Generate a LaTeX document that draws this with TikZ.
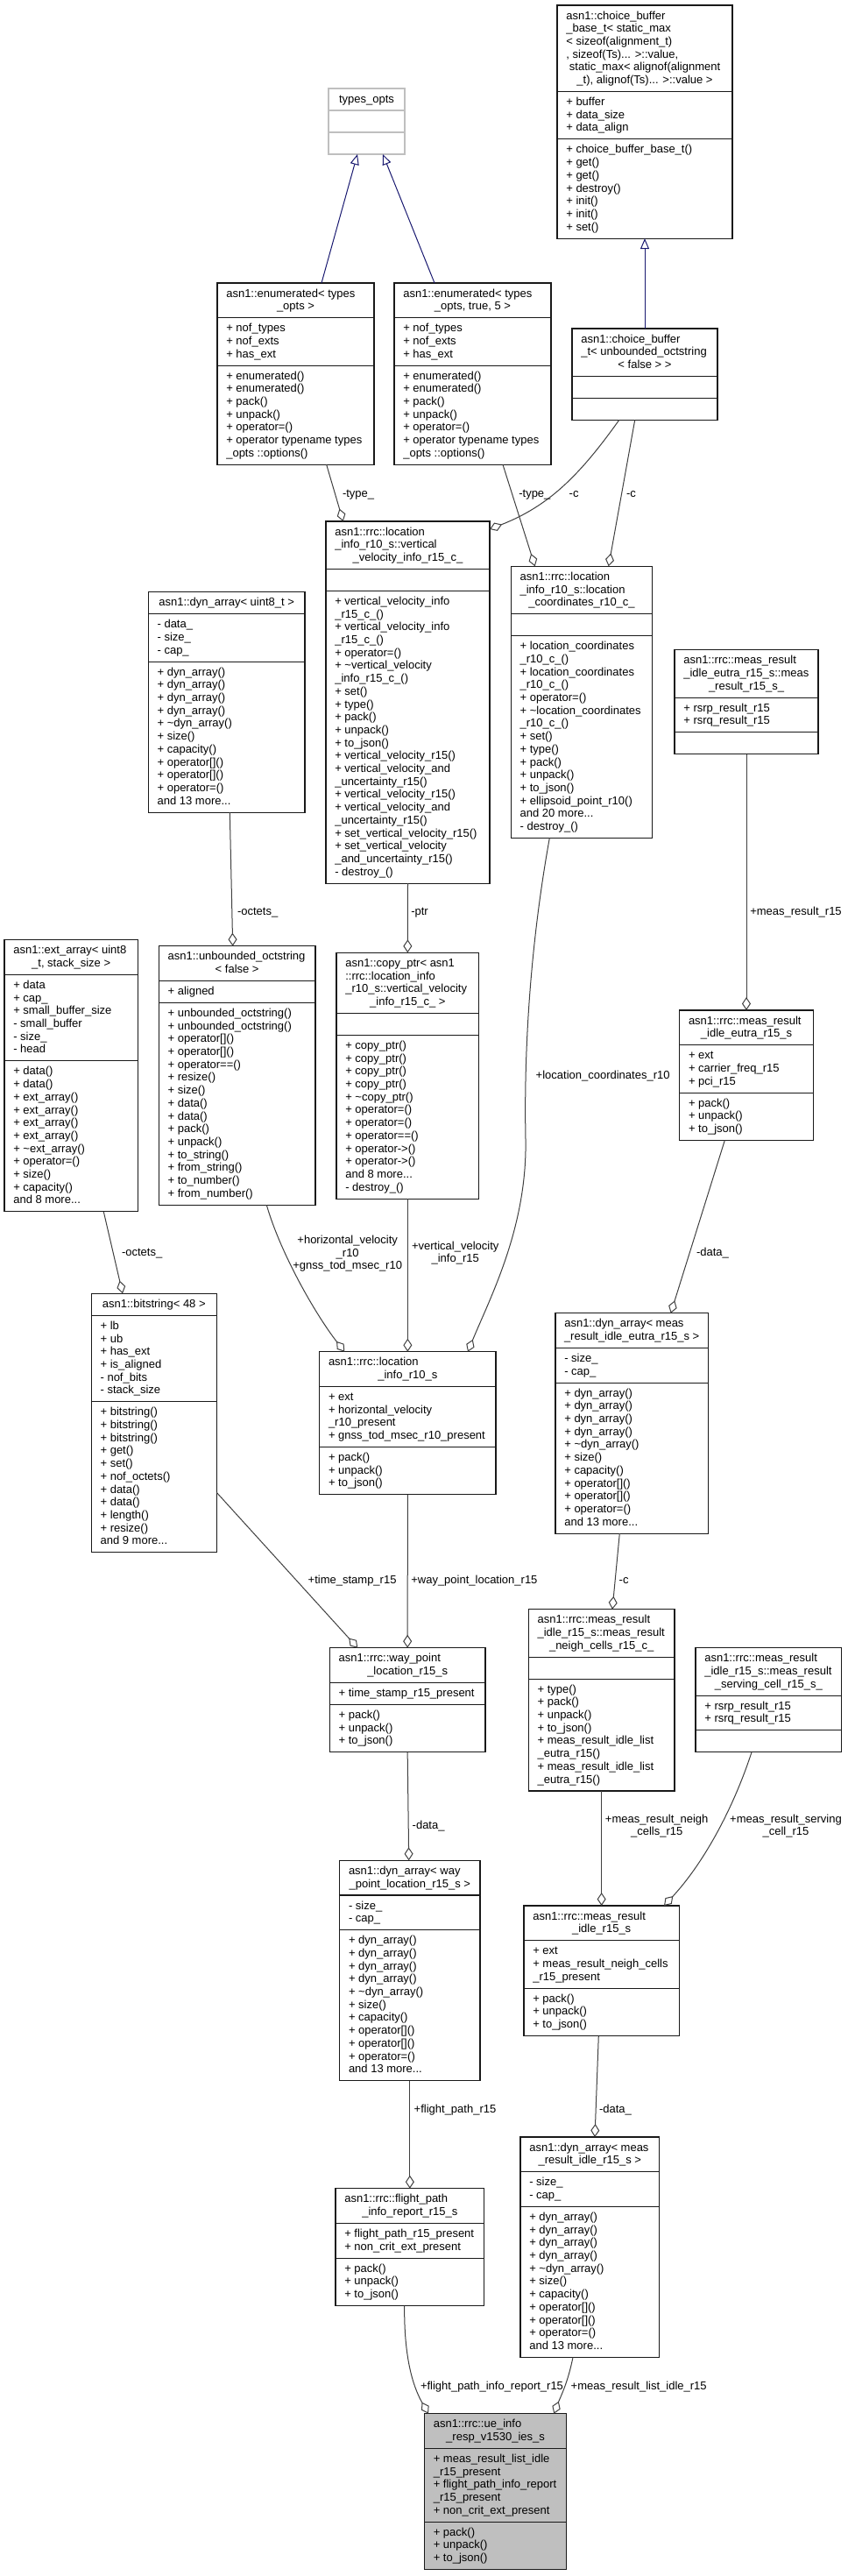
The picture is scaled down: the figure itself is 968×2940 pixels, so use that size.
\documentclass[tikz,border=0pt]{standalone}
\usepackage{fontspec}
\setmainfont{Liberation Sans}
\usetikzlibrary{arrows.meta,calc}
\definecolor{edgegray}{HTML}{404040}
\definecolor{inhblue}{HTML}{191970}
\definecolor{lightbd}{HTML}{BFBFBF}
\definecolor{mainfill}{HTML}{BFBFBF}
\newcommand\mytilde{\textasciitilde}
\newcommand\clsbox[8]{%
  \pgfmathsetmacro\cL{#2}%
  \pgfmathsetmacro\cT{#3}%
  \pgfmathsetmacro\cR{#4}%
  \pgfmathsetmacro\cW{#4-(#2)}%
  \pgfmathsetmacro\cX{((#2)+(#4))/2}%
  \pgfmathsetmacro\cA{#3+#5*14.7+10.3}%
  \pgfmathsetmacro\cB{\cA+max(#6,1)*14.7+10.3}%
  \pgfmathsetmacro\cE{\cB+max(#7,1)*14.7+10.3}%
  \pgfmathsetmacro\cH{\cE-(#3)}%
  \def\cN{#5}%
  \node[#8, anchor=north west, minimum width=\cW pt, minimum height=\cH pt] (#1) at (\cL,\cT) {};
  \draw[#8] (\cL,\cA) -- (\cR,\cA) (\cL,\cB) -- (\cR,\cB);
}
\newcommand\ttl[2]{%
  \def\tmp{#1}%
  \ifx\tmp\empty\else
    \node[txt, anchor=base west] at (\cL+10.3,\cT+16) {\begin{tabular}[t]{@{}l@{}}#1\end{tabular}};
  \fi
  \pgfmathsetmacro\cY{\cT+16+(\cN-1)*14.7}%
  \node[txt, anchor=base] at (\cX,\cY) {#2};
}
\newcommand\att[1]{\node[txt, anchor=base west] at (\cL+10.3,\cA+16) {\begin{tabular}[t]{@{}l@{}}#1\end{tabular}};}
\newcommand\meth[1]{\node[txt, anchor=base west] at (\cL+10.3,\cB+16) {\begin{tabular}[t]{@{}l@{}}#1\end{tabular}};}
\tikzset{
  every node/.style={font=\fontsize{13}{14.7}\selectfont},
  txt/.style={inner sep=0pt, outer sep=0pt, text=black},
  lbl/.style={inner sep=0pt, outer sep=0pt, text=black},
  cbox/.style={draw=black!90, line width=1.1pt, fill=white, inner sep=0pt, outer sep=0pt},
  gbox/.style={draw=lightbd, line width=1.1pt, fill=white, inner sep=0pt, outer sep=0pt},
  mbox/.style={draw=black!90, line width=1.1pt, fill=mainfill, inner sep=0pt, outer sep=0pt},
  agg/.style={draw=edgegray, line width=1pt, -{Diamond[length=15pt,width=10pt,fill=white]}},
  inh/.style={draw=inhblue, line width=1pt, -{Triangle[length=12pt,width=10pt,fill=white]}}
}
\catcode`\_=12
\newcommand\dynlist{+ dyn_array()\\+ dyn_array()\\+ dyn_array()\\+ dyn_array()\\+ \mytilde dyn_array()\\+ size()\\+ capacity()\\+ operator[]()\\+ operator[]()\\+ operator=()\\and 13 more...}
\newcommand\pujlist{+ pack()\\+ unpack()\\+ to_json()}
\begin{document}
\begin{tikzpicture}[x=1pt,y=-1pt]
\useasboundingbox (0,0) rectangle (968,2940);
\fill[white] (0,0) rectangle (968,2940);

% ---------- boxes ----------
\clsbox{types}{375}{101}{462}{1}{0}{0}{gbox}
\ttl{}{types_opts}

\clsbox{enumA}{248}{323}{427}{2}{3}{7}{cbox}
\ttl{asn1::enumerated< types}{_opts >}
\att{+ nof_types\\+ nof_exts\\+ has_ext}
\meth{+ enumerated()\\+ enumerated()\\+ pack()\\+ unpack()\\+ operator=()\\+ operator typename types\\_opts ::options()}

\clsbox{enumB}{450}{323}{629}{2}{3}{7}{cbox}
\ttl{asn1::enumerated< types}{_opts, true, 5 >}
\att{+ nof_types\\+ nof_exts\\+ has_ext}
\meth{+ enumerated()\\+ enumerated()\\+ pack()\\+ unpack()\\+ operator=()\\+ operator typename types\\_opts ::options()}

\clsbox{cbb}{636}{6}{836}{6}{3}{7}{cbox}
\ttl{asn1::choice_buffer\\_base_t< static_max\\< sizeof(alignment_t)\\, sizeof(Ts)... >::value,\\\hspace{3.6pt}static_max< alignof(alignment}{_t), alignof(Ts)... >::value >}
\att{+ buffer\\+ data_size\\+ data_align}
\meth{+ choice_buffer_base_t()\\+ get()\\+ get()\\+ destroy()\\+ init()\\+ init()\\+ set()}

\clsbox{cbt}{653}{375}{819}{3}{0}{0}{cbox}
\ttl{asn1::choice_buffer\\_t< unbounded_octstring}{< false > >}

\clsbox{vv}{372}{595}{559}{3}{0}{22}{cbox}
\ttl{asn1::rrc::location\\_info_r10_s::vertical}{_velocity_info_r15_c_}
\meth{+ vertical_velocity_info\\_r15_c_()\\+ vertical_velocity_info\\_r15_c_()\\+ operator=()\\+ \mytilde vertical_velocity\\_info_r15_c_()\\+ set()\\+ type()\\+ pack()\\+ unpack()\\+ to_json()\\+ vertical_velocity_r15()\\+ vertical_velocity_and\\_uncertainty_r15()\\+ vertical_velocity_r15()\\+ vertical_velocity_and\\_uncertainty_r15()\\+ set_vertical_velocity_r15()\\+ set_vertical_velocity\\_and_uncertainty_r15()\\- destroy_()}

\clsbox{lc}{583.3}{646.3}{744.7}{3}{0}{15}{cbox}
\ttl{asn1::rrc::location\\_info_r10_s::location}{_coordinates_r10_c_}
\meth{+ location_coordinates\\_r10_c_()\\+ location_coordinates\\_r10_c_()\\+ operator=()\\+ \mytilde location_coordinates\\_r10_c_()\\+ set()\\+ type()\\+ pack()\\+ unpack()\\+ to_json()\\+ ellipsoid_point_r10()\\and 20 more...\\- destroy_()}

\clsbox{dynu}{169.3}{675.7}{348}{1}{3}{11}{cbox}
\ttl{}{asn1::dyn_array< uint8_t >}
\att{- data_\\- size_\\- cap_}
\meth{\dynlist}

\clsbox{mrr}{770}{741.7}{934}{3}{2}{0}{cbox}
\ttl{asn1::rrc::meas_result\\_idle_eutra_r15_s::meas}{_result_r15_s_}
\att{+ rsrp_result_r15\\+ rsrq_result_r15}

\clsbox{ext}{5}{1072.7}{157.3}{2}{6}{11}{cbox}
\ttl{asn1::ext_array< uint8}{_t, stack_size >}
\att{+ data\\+ cap_\\+ small_buffer_size\\- small_buffer\\- size_\\- head}
\meth{+ data()\\+ data()\\+ ext_array()\\+ ext_array()\\+ ext_array()\\+ ext_array()\\+ \mytilde ext_array()\\+ operator=()\\+ size()\\+ capacity()\\and 8 more...}

\clsbox{uo}{181.3}{1079.7}{360}{2}{1}{15}{cbox}
\ttl{asn1::unbounded_octstring}{< false >}
\att{+ aligned}
\meth{+ unbounded_octstring()\\+ unbounded_octstring()\\+ operator[]()\\+ operator[]()\\+ operator==()\\+ resize()\\+ size()\\+ data()\\+ data()\\+ pack()\\+ unpack()\\+ to_string()\\+ from_string()\\+ to_number()\\+ from_number()}

\clsbox{cp}{384}{1087.3}{546.7}{4}{0}{12}{cbox}
\ttl{asn1::copy_ptr< asn1\\::rrc::location_info\\_r10_s::vertical_velocity}{_info_r15_c_ >}
\meth{+ copy_ptr()\\+ copy_ptr()\\+ copy_ptr()\\+ copy_ptr()\\+ \mytilde copy_ptr()\\+ operator=()\\+ operator=()\\+ operator==()\\+ operator->()\\+ operator->()\\and 8 more...\\- destroy_()}

\clsbox{mre}{775.7}{1153}{928.3}{2}{3}{3}{cbox}
\ttl{asn1::rrc::meas_result}{_idle_eutra_r15_s}
\att{+ ext\\+ carrier_freq_r15\\+ pci_r15}
\meth{\pujlist}

\clsbox{bs}{104.3}{1476.3}{247.3}{1}{6}{11}{cbox}
\ttl{}{asn1::bitstring< 48 >}
\att{+ lb\\+ ub\\+ has_ext\\+ is_aligned\\- nof_bits\\- stack_size}
\meth{+ bitstring()\\+ bitstring()\\+ bitstring()\\+ get()\\+ set()\\+ nof_octets()\\+ data()\\+ data()\\+ length()\\+ resize()\\and 9 more...}

\clsbox{li}{364.7}{1542.7}{566}{2}{4}{3}{cbox}
\ttl{asn1::rrc::location}{_info_r10_s}
\att{+ ext\\+ horizontal_velocity\\_r10_present\\+ gnss_tod_msec_r10_present}
\meth{\pujlist}

\clsbox{dme}{634}{1498.7}{808.3}{2}{2}{11}{cbox}
\ttl{asn1::dyn_array< meas}{_result_idle_eutra_r15_s >}
\att{- size_\\- cap_}
\meth{\dynlist}

\clsbox{wp}{376.3}{1880.7}{554}{2}{1}{3}{cbox}
\ttl{asn1::rrc::way_point}{_location_r15_s}
\att{+ time_stamp_r15_present}
\meth{\pujlist}

\clsbox{mnc}{603.3}{1836.7}{770}{3}{0}{8}{cbox}
\ttl{asn1::rrc::meas_result\\_idle_r15_s::meas_result}{_neigh_cells_r15_c_}
\meth{+ type()\\+ pack()\\+ unpack()\\+ to_json()\\+ meas_result_idle_list\\_eutra_r15()\\+ meas_result_idle_list\\_eutra_r15()}

\clsbox{msc}{794}{1880.7}{960.7}{3}{2}{0}{cbox}
\ttl{asn1::rrc::meas_result\\_idle_r15_s::meas_result}{_serving_cell_r15_s_}
\att{+ rsrp_result_r15\\+ rsrq_result_r15}

\clsbox{dwp}{387.7}{2123.3}{548}{2}{2}{11}{cbox}
\ttl{asn1::dyn_array< way}{_point_location_r15_s >}
\att{- size_\\- cap_}
\meth{\dynlist}

\clsbox{mri}{598}{2175}{775.3}{2}{3}{3}{cbox}
\ttl{asn1::rrc::meas_result}{_idle_r15_s}
\att{+ ext\\+ meas_result_neigh_cells\\_r15_present}
\meth{\pujlist}

\clsbox{fp}{383}{2497.7}{552.7}{2}{2}{3}{cbox}
\ttl{asn1::rrc::flight_path}{_info_report_r15_s}
\att{+ flight_path_r15_present\\+ non_crit_ext_present}
\meth{\pujlist}

\clsbox{dmi}{594}{2439}{752.7}{2}{2}{11}{cbox}
\ttl{asn1::dyn_array< meas}{_result_idle_r15_s >}
\att{- size_\\- cap_}
\meth{\dynlist}

\clsbox{main}{484.5}{2754.7}{646.7}{2}{5}{3}{mbox}
\ttl{asn1::rrc::ue_info}{_resp_v1530_ies_s}
\att{+ meas_result_list_idle\\_r15_present\\+ flight_path_info_report\\_r15_present\\+ non_crit_ext_present}
\meth{\pujlist}

% ---------- inheritance ----------
\draw[inh] ([xshift=119pt]enumA.north west) -- ([xshift=33pt]types.south west);
\draw[inh] ([xshift=46pt]enumB.north west) -- ([xshift=62pt]types.south west);
\draw[inh] (cbt.north) -- (cbb.south);

% ---------- aggregation ----------
\draw[agg] ([xshift=124.7pt]enumA.south west) -- ([xshift=19.7pt]vv.north west);
\draw[agg] ([xshift=124pt]enumB.south west) -- ([xshift=27.4pt]lc.north west);
\draw[agg] ([xshift=53.7pt]cbt.south west) .. controls (660,545) and (625,578) .. ([yshift=-9pt]vv.north east);
\draw[agg] ([xshift=71.7pt]cbt.south west) -- ([xshift=111.4pt]lc.north west);
\draw[agg] ([xshift=93pt]dynu.south west) -- ([xshift=84.4pt]uo.north west);
\draw[agg] (vv.south) -- (cp.north);
\draw[agg] ([xshift=44pt]lc.south west) .. controls (605,1080) and (598,1200) .. (600,1300) .. controls (602,1400) and (560,1480) .. ([xshift=169.3pt]li.north west);
\draw[agg] ([xshift=123pt]uo.south west) .. controls (320,1430) and (360,1500) .. ([xshift=28.6pt]li.north west);
\draw[agg] (cp.south) -- (li.north);
\draw[agg] (mrr.south) -- (mre.north);
\draw[agg] ([xshift=51.6pt]mre.south west) -- ([xshift=131.7pt]dme.north west);
\draw[agg] ([xshift=113.3pt]ext.south west) -- ([xshift=35.7pt]bs.north west);
\draw[agg] ([yshift=-79.3pt]bs.east) -- ([xshift=32pt]wp.north west);
\draw[agg] (li.south) -- (wp.north);
\draw[agg] ([xshift=73.3pt]dme.south west) -- ([xshift=95.7pt]mnc.north west);
\draw[agg] (wp.south) -- ([xshift=79pt]dwp.north west);
\draw[agg] (mnc.south) -- (mri.north);
\draw[agg] ([xshift=64pt]msc.south west) .. controls (835,2070) and (800,2130) .. ([xshift=160pt]mri.north west);
\draw[agg] (dwp.south) -- (fp.north);
\draw[agg] ([xshift=85.3pt]mri.south west) -- ([xshift=85pt]dmi.north west);
\draw[agg] ([xshift=78.7pt]fp.south west) .. controls (461,2700) and (475,2730) .. ([xshift=4.5pt]main.north west);
\draw[agg] ([xshift=60pt]dmi.south west) .. controls (648,2720) and (640,2735) .. ([xshift=147.8pt]main.north west);

% ---------- labels ----------
\node[lbl, anchor=base west] (l1) at (391,567.2) {-type_};
\node[lbl, anchor=base west] (l2) at (592.3,567.2) {-type_};
\node[lbl, anchor=base west] (l3) at (649.7,567.2) {-c};
\node[lbl, anchor=base west] (l4) at (715,567.2) {-c};
\node[lbl, anchor=base west] (l5) at (271,1044.5) {-octets_};
\node[lbl, anchor=base west] (l6) at (469.3,1044.5) {-ptr};
\node[lbl, anchor=base west] (l7) at (856.3,1044.5) {+meas_result_r15};
\node[lbl, anchor=base west] (l8) at (611.7,1231.2) {+location_coordinates_r10};
\node[lbl, anchor=base] (l9) at (396.7,1419.5) {\begin{tabular}[t]{@{}c@{}}+horizontal_velocity\\_r10\\+gnss_tod_msec_r10\end{tabular}};
\node[lbl, anchor=base] (l10) at (519.7,1426.2) {\begin{tabular}[t]{@{}c@{}}+vertical_velocity\\_info_r15\end{tabular}};
\node[lbl, anchor=base west] (l11) at (139,1433.5) {-octets_};
\node[lbl, anchor=base west] (l12) at (795,1433.5) {-data_};
\node[lbl, anchor=base west] (l13) at (351.7,1807.8) {+time_stamp_r15};
\node[lbl, anchor=base west] (l14) at (469.3,1807.8) {+way_point_location_r15};
\node[lbl, anchor=base west] (l15) at (706.7,1807.8) {-c};
\node[lbl, anchor=base west] (l16) at (470.7,2087.2) {-data_};
\node[lbl, anchor=base] (l17) at (749.7,2080.2) {\begin{tabular}[t]{@{}c@{}}+meas_result_neigh\\_cells_r15\end{tabular}};
\node[lbl, anchor=base] (l18) at (897,2080.2) {\begin{tabular}[t]{@{}c@{}}+meas_result_serving\\_cell_r15\end{tabular}};
\node[lbl, anchor=base west] (l19) at (472.7,2411.2) {+flight_path_r15};
\node[lbl, anchor=base west] (l20) at (684,2411.2) {-data_};
\node[lbl, anchor=base west] (l21) at (480,2727.2) {+flight_path_info_report_r15};
\node[lbl, anchor=base west] (l22) at (651.7,2727.2) {+meas_result_list_idle_r15};
\end{tikzpicture}
\end{document}
